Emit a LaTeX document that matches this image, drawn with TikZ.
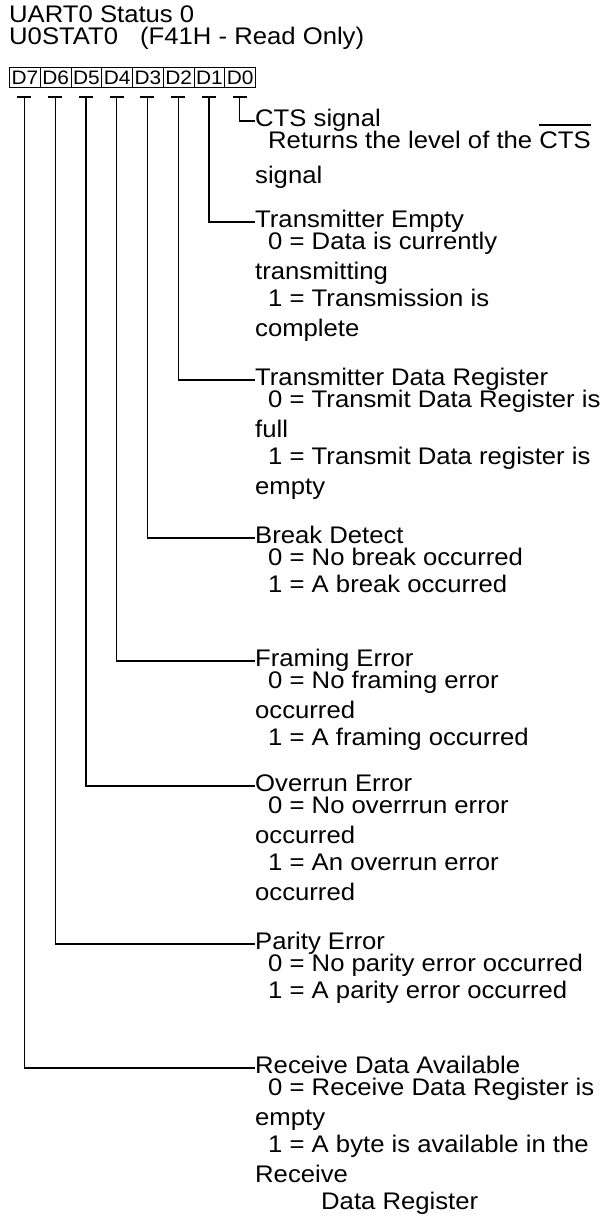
\documentclass[tikz,border=0pt]{standalone}
\usepackage{fontspec}
\setmainfont{Liberation Sans}[FakeStretch=1.07]
\newcommand\ovbar[1]{\leavevmode\vbox{\hrule height 1.6pt\kern 5.5pt\hbox{#1}}}
\begin{document}
\begin{tikzpicture}[x=1pt,y=-1pt,
  txt/.style={anchor=base west,inner sep=0pt,font=\fontsize{24}{26}\selectfont},
  wire/.style={line width=1.2pt},
  cell/.style={draw,line width=1pt,minimum width=30.75pt,minimum height=20pt,inner sep=0pt,
    anchor=north west,font=\fontsize{19.5}{20}\selectfont}]
\useasboundingbox (0,0) rectangle (605,1224);
\fill[white] (0,0) rectangle (605,1224);
% header
\node[txt] (h1) at (9,22) {UART0 Status 0};
\node[txt] (h2) at (9,44) {U0STAT0\hspace{22pt}(F41H - Read Only)};
% register cells
\node[cell] (b7) at (9,67) {D7};
\node[cell] (b6) at (39.75,67) {D6};
\node[cell] (b5) at (70.5,67) {D5};
\node[cell] (b4) at (101.25,67) {D4};
\node[cell] (b3) at (132,67) {D3};
\node[cell] (b2) at (162.75,67) {D2};
\node[cell] (b1) at (193.5,67) {D1};
\node[cell] (b0) at (224.25,67) {D0};
% tick points
\coordinate (t7) at (24.4,97);
\coordinate (t6) at (55.1,97);
\coordinate (t5) at (85.9,97);
\coordinate (t4) at (116.6,97);
\coordinate (t3) at (147.4,97);
\coordinate (t2) at (178.1,97);
\coordinate (t1) at (208.9,97);
\coordinate (t0) at (239.6,97);
\foreach \t in {t7,t6,t5,t4,t3,t2,t1,t0}
  \draw[wire] ([xshift=-7pt]\t) -- ([xshift=7pt]\t);
% CTS
\node[txt] (cts) at (255,126) {CTS signal};
\node[txt] (cts1) at (268,148) {Returns the level of the \ovbar{CTS}};
\node[txt] (cts2) at (255,183) {signal};
% TE
\node[txt] (te) at (255,227) {Transmitter Empty};
\node[txt] (te1) at (268,249) {0 = Data is currently};
\node[txt] (te2) at (255,279) {transmitting};
\node[txt] (te3) at (268,306) {1 = Transmission is};
\node[txt] (te4) at (255,336) {complete};
% TDR
\node[txt] (tdr) at (255,385) {Transmitter Data Register};
\node[txt] (tdr1) at (268,407) {0 = Transmit Data Register is};
\node[txt] (tdr2) at (255,437) {full};
\node[txt] (tdr3) at (268,464) {1 = Transmit Data register is};
\node[txt] (tdr4) at (255,494) {empty};
% BD
\node[txt] (bd) at (255,543) {Break Detect};
\node[txt] (bd1) at (268,565) {0 = No break occurred};
\node[txt] (bd2) at (268,592) {1 = A break occurred};
% FE
\node[txt] (fe) at (255,666) {Framing Error};
\node[txt] (fe1) at (268,688) {0 = No framing error};
\node[txt] (fe2) at (255,718) {occurred};
\node[txt] (fe3) at (268,745) {1 = A framing occurred};
% OE
\node[txt] (oe) at (255,791) {Overrun Error};
\node[txt] (oe1) at (268,813) {0 = No overrrun error};
\node[txt] (oe2) at (255,843) {occurred};
\node[txt] (oe3) at (268,870) {1 = An overrun error};
\node[txt] (oe4) at (255,900) {occurred};
% PE
\node[txt] (pe) at (255,949) {Parity Error};
\node[txt] (pe1) at (268,971) {0 = No parity error occurred};
\node[txt] (pe2) at (268,998) {1 = A parity error occurred};
% RDA
\node[txt] (rda) at (255,1073) {Receive Data Available};
\node[txt] (rda1) at (268,1095) {0 = Receive Data Register is};
\node[txt] (rda2) at (255,1125) {empty};
\node[txt] (rda3) at (268,1152) {1 = A byte is available in the};
\node[txt] (rda4) at (255,1182) {Receive};
\node[txt] (rda5) at (321,1209) {Data Register};
% connectors
\draw[wire] (t0) |- ([yshift=5pt]cts.base west);
\draw[wire] (t1) |- ([yshift=5pt]te.base west);
\draw[wire] (t2) |- ([yshift=5pt]tdr.base west);
\draw[wire] (t3) |- ([yshift=5pt]bd.base west);
\draw[wire] (t4) |- ([yshift=5pt]fe.base west);
\draw[wire] (t5) |- ([yshift=5pt]oe.base west);
\draw[wire] (t6) |- ([yshift=5pt]pe.base west);
\draw[wire] (t7) |- ([yshift=5pt]rda.base west);
\end{tikzpicture}
\end{document}
